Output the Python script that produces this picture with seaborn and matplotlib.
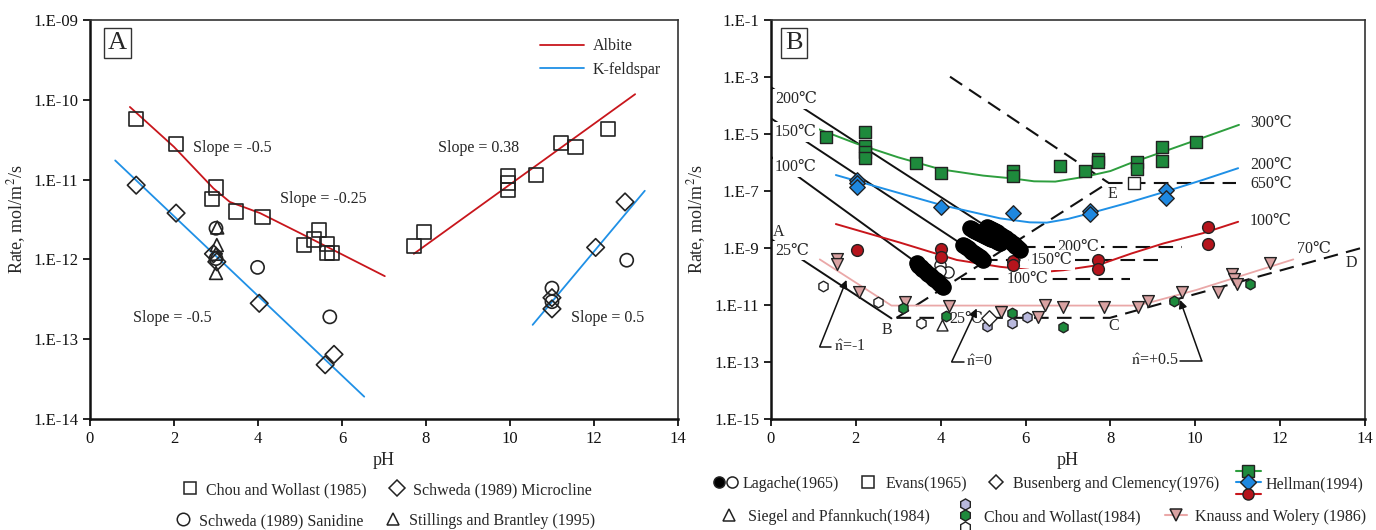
import numpy as np
import matplotlib
matplotlib.use("Agg")
import matplotlib.pyplot as plt
import seaborn as sns
from matplotlib.lines import Line2D
from matplotlib.legend_handler import HandlerBase, HandlerTuple
from matplotlib.ticker import FixedLocator, NullLocator

# ---------------- panel A data (pH, log10 rate) ----------------
chou85_ph = [1.1, 2.04, 3.0, 2.9, 3.48, 4.11, 5.1, 5.33, 5.46, 5.65, 5.65, 5.77,
             7.71, 7.96, 9.96, 9.96, 9.96, 10.62, 11.22, 11.56, 12.33]
chou85_log = [-10.24, -10.55, -11.10, -11.24, -11.40, -11.47, -11.82, -11.75, -11.63, -11.81, -11.92, -11.92,
              -11.83, -11.66, -10.955, -11.04, -11.13, -10.94, -10.545, -10.59, -10.37]
micro_ph = [1.1, 2.05, 2.94, 3.02, 4.03, 5.6, 5.81, 11.0, 11.0, 12.04, 12.74]
micro_log = [-11.07, -11.42, -11.93, -12.03, -12.55, -13.32, -13.19, -12.48, -12.62, -11.85, -11.28]
sanid_ph = [3.0, 3.0, 3.99, 5.71, 11.0, 11.0, 12.78]
sanid_log = [-11.61, -11.99, -12.10, -12.72, -12.36, -12.53, -12.01]
still_ph = [3.03, 3.02, 3.0, 3.0]
still_log = [-11.60, -11.82, -11.93, -12.17]

albite_acid_ph = [0.95, 2.0, 2.94, 3.33, 4.05, 5.0, 7.02]
albite_acid_log = [-10.09, -10.59, -11.11, -11.28, -11.42, -11.67, -12.21]
albite_base_ph = [7.71, 12.98]
albite_base_log = [-11.93, -9.93]
kfs_acid_ph = [0.6, 6.53]
kfs_acid_log = [-10.76, -13.72]
kfs_base_ph = [10.54, 13.21]
kfs_base_log = [-12.82, -11.14]

# ---------------- panel B data ----------------
hel300_ph = [1.30, 2.21, 2.21, 2.21, 2.21, 3.41, 4.01, 5.71, 5.71, 6.81, 7.41, 7.71, 7.71, 8.62, 8.62, 9.22, 9.22, 10.02]
hel300_log = [-5.09, -4.92, -5.41, -5.62, -5.85, -6.03, -6.36, -6.29, -6.47, -6.11, -6.29, -5.89, -6.0, -5.99, -6.24, -5.44, -5.95, -5.27]
hel200_ph = [2.02, 2.02, 2.02, 4.01, 5.71, 7.52, 7.52, 9.30, 9.30]
hel200_log = [-6.61, -6.72, -6.85, -7.55, -7.78, -7.69, -7.81, -6.96, -7.23]
hel100_ph = [2.02, 4.01, 4.01, 5.71, 5.71, 7.71, 7.71, 10.29, 10.29]
hel100_log = [-9.07, -9.05, -9.31, -9.45, -9.60, -9.42, -9.75, -8.25, -8.86]

fit300_ph = [0.96, 2.0, 3.0, 4.0, 5.0, 5.7, 6.2, 6.7, 7.4, 8.0, 8.46, 9.25, 10.03, 11.03]
fit300_log = [-4.74, -5.33, -5.82, -6.24, -6.46, -6.56, -6.66, -6.67, -6.50, -6.30, -6.03, -5.62, -5.21, -4.68]
fit200_ph = [1.53, 2.0, 3.04, 4.01, 5.4, 6.1, 6.5, 7.0, 7.52, 8.4, 9.30, 10.2, 11.01]
fit200_log = [-6.44, -6.64, -7.08, -7.49, -7.96, -8.10, -8.11, -7.98, -7.78, -7.42, -7.02, -6.60, -6.20]
fit100_ph = [1.53, 3.04, 4.38, 5.4, 6.5, 6.89, 7.71, 8.5, 9.25, 10.18, 11.01]
fit100_log = [-8.16, -8.81, -9.42, -9.66, -9.83, -9.78, -9.60, -9.19, -8.84, -8.48, -8.08]

knauss_ph = [1.56, 1.56, 2.07, 3.16, 4.2, 5.42, 6.30, 6.46, 6.89, 7.85, 8.66, 8.89, 9.68, 10.53, 10.86, 10.91, 10.99, 11.76]
knauss_log = [-9.40, -9.55, -10.53, -10.88, -11.04, -11.26, -11.42, -11.0, -11.06, -11.06, -11.06, -10.86, -10.53, -10.53, -9.91, -10.10, -10.26, -9.54]
fit70_ph = [1.15, 2.84, 8.62, 9.01, 10.03, 12.31]
fit70_log = [-9.40, -11.02, -11.02, -10.88, -10.47, -9.40]

chou84_green_ph = [3.10, 4.12, 5.69, 6.89, 9.50, 11.29]
chou84_green_log = [-11.12, -11.39, -11.27, -11.78, -10.85, -10.26]
chou84_lav_ph = [5.08, 5.69, 6.03]
chou84_lav_log = [-11.72, -11.64, -11.41]
chou84_white_ph = [1.23, 2.53, 3.53]
chou84_white_log = [-10.33, -10.88, -11.64]

lag100_ph = [3.43, 3.47, 3.50, 3.54, 3.57, 3.61, 3.64, 3.68, 3.71, 3.75, 3.78, 3.82, 3.85, 3.89, 3.92, 3.96, 3.99, 4.03, 4.06]
lag100_log = [-9.54, -9.59, -9.63, -9.68, -9.72, -9.77, -9.81, -9.86, -9.90, -9.95, -9.99, -10.04, -10.08, -10.13, -10.17, -10.22, -10.27, -10.32, -10.36]
lag150_ph = [4.53, 4.57, 4.60, 4.64, 4.67, 4.71, 4.74, 4.78, 4.81, 4.85, 4.88, 4.92, 4.95, 5.0]
lag150_log = [-8.89, -8.93, -8.97, -9.01, -9.05, -9.09, -9.13, -9.17, -9.21, -9.25, -9.29, -9.33, -9.36, -9.42]
lag200_ph = [4.69, 4.73, 4.77, 4.82, 4.86, 4.91, 4.95, 5.00, 5.04, 5.09, 5.13, 5.18, 5.22, 5.27, 5.31, 5.36, 5.40,
             5.09, 5.14, 5.18, 5.23, 5.27, 5.32, 5.36, 5.41, 5.45, 5.50, 5.54, 5.59, 5.63, 5.68, 5.72, 5.76, 5.80, 5.84, 5.87]
lag200_log = [-8.30, -8.33, -8.36, -8.40, -8.43, -8.47, -8.50, -8.54, -8.57, -8.61, -8.64, -8.67, -8.70, -8.73, -8.76, -8.79, -8.82,
              -8.26, -8.30, -8.33, -8.37, -8.41, -8.45, -8.49, -8.53, -8.57, -8.62, -8.66, -8.71, -8.76, -8.81, -8.87, -8.92, -8.97, -9.02, -9.07]
lag_white_ph = [3.98, 4.18, 3.98]
lag_white_log = [-9.60, -9.83, -9.80]

evans_ph, evans_log = [8.56], [-6.71]
busen_ph, busen_log = [5.13], [-11.45]
siegel_ph, siegel_log = [4.02], [-11.70]

# solid temperature lines (left) and dashed reference lines
t_lines = {
    "200": ([0.0, 5.87], [-3.36, -9.01]),
    "150": ([0.0, 5.0], [-4.45, -9.36]),
    "100": ([0.0, 4.10], [-5.8, -10.24]),
    "25": ([0.0, 2.84], [-8.69, -11.47]),
}
dash_lines = [
    ([2.96, 7.99, 13.96], [-11.45, -11.45, -8.98]),
    ([2.96, 7.8], [-11.45, -6.85]),
    ([4.22, 7.95], [-2.99, -6.71]),
    ([7.95, 10.97], [-6.73, -6.73]),
    ([5.9, 9.68], [-8.95, -8.95]),
    ([5.0, 9.21], [-9.42, -9.42]),
    ([4.49, 8.46], [-10.10, -10.10]),
]

GREEN, BLUE, RED, PINK = "#1e8a3c", "#1e88e0", "#b5141c", "#d9a2a2"
LGREEN, LBLUE, LRED, LPINK = "#2e9e3e", "#1f90e6", "#c8161c", "#eaa8a8"
LAV = "#b9b9dd"

sns.set_style("ticks")
plt.rcParams['font.family'] = ['Liberation Serif', 'DejaVu Serif', 'DejaVu Sans']
plt.rcParams['mathtext.fontset'] = 'stix'
plt.rcParams['font.size'] = 11


def pts(ax, xs, logs, marker, size, fc, ec="#222222", lw=1.0, z=4):
    sns.scatterplot(x=xs, y=10.0 ** np.asarray(logs), marker=marker, s=size, facecolor=fc,
                    edgecolor=ec, linewidth=lw, ax=ax, zorder=z, legend=False)


def curve(ax, xs, logs, color, lw=1.3, ls="-", label=None, z=2):
    sns.lineplot(x=xs, y=10.0 ** np.asarray(logs), color=color, lw=lw, linestyle=ls, sort=False,
                 estimator=None, ax=ax, zorder=z, label=label)


def style_axes(ax):
    for side in ["top", "right"]:
        ax.spines[side].set_linewidth(1.2)
        ax.spines[side].set_color("#333333")
    for side in ["left", "bottom"]:
        ax.spines[side].set_linewidth(1.8)
        ax.spines[side].set_color("#111111")
    ax.tick_params(direction="out", length=5, width=1.3, labelsize=12, colors="#111111")
    ax.set_xlim(0, 14)
    ax.set_xticks(range(0, 15, 2))
    ax.yaxis.set_minor_locator(NullLocator())
    ax.set_xlabel("pH", fontsize=13)
    ax.set_ylabel("Rate, mol/m$^2$/s", fontsize=13)


fig = plt.figure(figsize=(13.76, 5.30), dpi=100)
axA = fig.add_axes([0.0654, 0.2094, 0.4273, 0.7529])
axB = fig.add_axes([0.5603, 0.2094, 0.4317, 0.7529])

# ================= PANEL A =================
axA.set_yscale("log")
axA.set_ylim(1e-14, 1e-9)
curve(axA, albite_acid_ph, albite_acid_log, LRED, label="Albite")
curve(axA, albite_base_ph, albite_base_log, LRED)
curve(axA, kfs_acid_ph, kfs_acid_log, LBLUE, label="K-feldspar")
curve(axA, kfs_base_ph, kfs_base_log, LBLUE)

pts(axA, chou85_ph, chou85_log, "s", 105, "none", lw=1.2)
pts(axA, micro_ph, micro_log, "D", 80, "none", lw=1.2)
pts(axA, sanid_ph, sanid_log, "o", 90, "none", lw=1.2)
pts(axA, still_ph, still_log, "^", 85, "none", lw=1.2)

style_axes(axA)
axA.yaxis.set_major_locator(FixedLocator([10.0 ** k for k in range(-14, -8)]))
axA.set_yticklabels([f"1.E-{-k:02d}" for k in range(-14, -8)])

slope_labels = [("Slope = -0.5", 2.45, -10.60), ("Slope = -0.25", 4.52, -11.24),
                ("Slope = -0.5", 1.02, -12.73), ("Slope = 0.38", 8.29, -10.60),
                ("Slope = 0.5", 11.45, -12.73)]
for txt, x, lg in slope_labels:
    axA.text(x, 10 ** lg, txt, ha="left", va="center", fontsize=11.5)

axA.text(0.047, 0.943, "A", transform=axA.transAxes, ha="center", va="center", fontsize=19,
         bbox=dict(boxstyle="square,pad=0.15", fc="white", ec="#333333", lw=1.0))
axA.legend(loc="upper right", bbox_to_anchor=(0.995, 0.99), frameon=False, fontsize=11.5,
           handlelength=2.8, handletextpad=0.5, labelspacing=0.45)

# ================= PANEL B =================
axB.set_yscale("log")
axB.set_ylim(1e-15, 1e-1)

for key, (xs, lg) in t_lines.items():
    curve(axB, xs, lg, "#111111", lw=1.4)
for xs, lg in dash_lines:
    curve(axB, xs, lg, "#111111", lw=1.5, ls=(0, (7, 4)))

curve(axB, fit300_ph, fit300_log, LGREEN, lw=1.4)
curve(axB, fit200_ph, fit200_log, LBLUE, lw=1.4)
curve(axB, fit100_ph, fit100_log, LRED, lw=1.4)
curve(axB, fit70_ph, fit70_log, LPINK, lw=1.3)

pts(axB, lag100_ph, lag100_log, "o", 120, "black", ec="black", z=5)
pts(axB, lag150_ph, lag150_log, "o", 120, "black", ec="black", z=5)
pts(axB, lag200_ph, lag200_log, "o", 120, "black", ec="black", z=5)
pts(axB, lag_white_ph, lag_white_log, "o", 65, "white")
pts(axB, hel300_ph, hel300_log, "s", 72, GREEN)
pts(axB, hel200_ph, hel200_log, "D", 62, BLUE)
pts(axB, hel100_ph, hel100_log, "o", 72, RED)
pts(axB, knauss_ph, knauss_log, "v", 72, PINK)
pts(axB, chou84_green_ph, chou84_green_log, "h", 58, GREEN)
pts(axB, chou84_lav_ph, chou84_lav_log, "h", 58, LAV)
pts(axB, chou84_white_ph, chou84_white_log, "h", 58, "white")
pts(axB, evans_ph, evans_log, "s", 72, "white")
pts(axB, busen_ph, busen_log, "D", 62, "white")
pts(axB, siegel_ph, siegel_log, "^", 62, "white")

style_axes(axB)
axB.yaxis.set_major_locator(FixedLocator([10.0 ** k for k in range(-15, 0, 2)]))
axB.set_yticklabels([f"1.E-{-k}" for k in range(-15, 0, 2)])

WB = dict(boxstyle="square,pad=0.12", fc="white", ec="none")
plain_labels = [
    ("300℃", 11.29, -4.63, "left"), ("200℃", 11.29, -6.09, "left"),
    ("650℃", 11.29, -6.75, "left"), ("100℃", 11.29, -8.04, "left"),
    ("70℃", 12.39, -9.05, "left"), ("D", 13.69, -9.54, "center"),
    ("C", 8.08, -11.74, "center"), ("E", 8.05, -7.10, "center"),
    ("A", 0.17, -8.45, "center"), ("B", 2.73, -11.88, "center"),
]
for txt, x, lg, ha in plain_labels:
    axB.text(x, 10 ** lg, txt, ha=ha, va="center", fontsize=11.5, zorder=6)
boxed_labels = [
    ("200℃", 0.09, -3.77, "left"), ("150℃", 0.09, -4.92, "left"),
    ("100℃", 0.09, -6.15, "left"), ("25℃", 0.09, -9.09, "left"),
    ("200℃", 7.24, -8.95, "center"), ("150℃", 6.62, -9.42, "center"),
    ("100℃", 6.05, -10.10, "center"), ("25℃", 4.61, -11.48, "center"),
]
for txt, x, lg, ha in boxed_labels:
    axB.text(x, 10 ** lg, txt, ha=ha, va="center", fontsize=11.5, zorder=3, bbox=WB)

# n-hat arrows: (label, text x, text ha, corner, leg end x, tip)
arrows = [
    (r"$\hat{\mathrm{n}}$=-1", 1.48, "left", (1.15, -12.46), 1.42, (1.78, -10.12)),
    (r"$\hat{\mathrm{n}}$=0", 4.6, "left", (4.26, -12.99), 4.55, (4.85, -11.12)),
    (r"$\hat{\mathrm{n}}$=+0.5", 9.6, "right", (10.15, -12.95), 9.65, (9.64, -10.82)),
]
for txt, tx, ha, (cx, cl), lx, (px, pl) in arrows:
    axB.text(tx, 10 ** cl, txt, ha=ha, va="center", fontsize=11.5)
    axB.plot([lx, cx], [10 ** cl, 10 ** cl], color="#111111", lw=1.1)
    axB.annotate("", xy=(px, 10 ** pl), xytext=(cx, 10 ** cl),
                 arrowprops=dict(arrowstyle="-|>", color="#111111", lw=1.1, mutation_scale=12,
                                 shrinkA=0, shrinkB=0))

axB.text(0.039, 0.943, "B", transform=axB.transAxes, ha="center", va="center", fontsize=19,
         bbox=dict(boxstyle="square,pad=0.15", fc="white", ec="#333333", lw=1.0))


# ================= legends below =================
class Stack:
    def __init__(self, specs):
        self.specs = specs


class StackHandler(HandlerBase):
    def create_artists(self, legend, orig, xd, yd, w, h, fs, trans):
        arts = []
        n = len(orig.specs)
        step = 8.5
        cx = w / 2 - xd
        for i, (m, fc, lc) in enumerate(orig.specs):
            y = h / 2 - yd + (n - 1) / 2 * step - i * step
            if lc:
                arts.append(Line2D([cx - 9, cx + 9], [y, y], color=lc, lw=1.5, transform=trans))
            arts.append(Line2D([cx], [y], marker=m, ms=8, mfc=fc, mec="#222222", mew=1.0,
                               ls="", transform=trans))
        return arts


def mk(marker, fc="none", ms=9, ls="", color=None):
    return Line2D([], [], marker=marker, ms=ms, mfc=fc, mec="#222222", mew=1.1, ls=ls,
                  color=color if color else "#222222", lw=1.5)


legA1 = fig.legend([mk("s"), mk("D", ms=8)],
                   ["Chou and Wollast (1985)", "Schweda (1989) Microcline"],
                   loc="center", bbox_to_anchor=(387 / 1376, 1 - 490 / 530), ncol=2, frameon=False,
                   fontsize=11.5, handlelength=1.0, handletextpad=0.5, columnspacing=1.4)
legA2 = fig.legend([mk("o"), mk("^")],
                   ["Schweda (1989) Sanidine", "Stillings and Brantley (1995)"],
                   loc="center", bbox_to_anchor=(385 / 1376, 1 - 521 / 530), ncol=2, frameon=False,
                   fontsize=11.5, handlelength=1.0, handletextpad=0.5, columnspacing=1.4)

hellman = Stack([("s", GREEN, LGREEN), ("D", BLUE, LBLUE), ("o", RED, LRED)])
chou84 = Stack([("h", LAV, None), ("h", GREEN, None), ("h", "white", None)])
hmap = {tuple: HandlerTuple(ndivide=None, pad=0.2), Stack: StackHandler()}

legB1 = fig.legend([(mk("o", "black", ms=8), mk("o", "white", ms=8)), mk("s", ms=8), mk("D", ms=7), hellman],
                   ["Lagache(1965)", "Evans(1965)", "Busenberg and Clemency(1976)", "Hellman(1994)"],
                   loc="center", bbox_to_anchor=(1039 / 1376, 1 - 484 / 530), ncol=4, frameon=False,
                   fontsize=11.5, handlelength=1.4, handletextpad=0.4, columnspacing=1.1,
                   handler_map=hmap)
legB2 = fig.legend([mk("^", ms=8), chou84, mk("v", PINK, ms=8, ls="-", color=LPINK)],
                   ["Siegel and Pfannkuch(1984)", "Chou and Wollast(1984)", "Knauss and Wolery (1986)"],
                   loc="center", bbox_to_anchor=(1042 / 1376, 1 - 517 / 530), ncol=3, frameon=False,
                   fontsize=11.5, handlelength=1.4, handletextpad=0.5, columnspacing=1.5,
                   handler_map=hmap, numpoints=1)

fig.savefig("out.png", dpi=100)
